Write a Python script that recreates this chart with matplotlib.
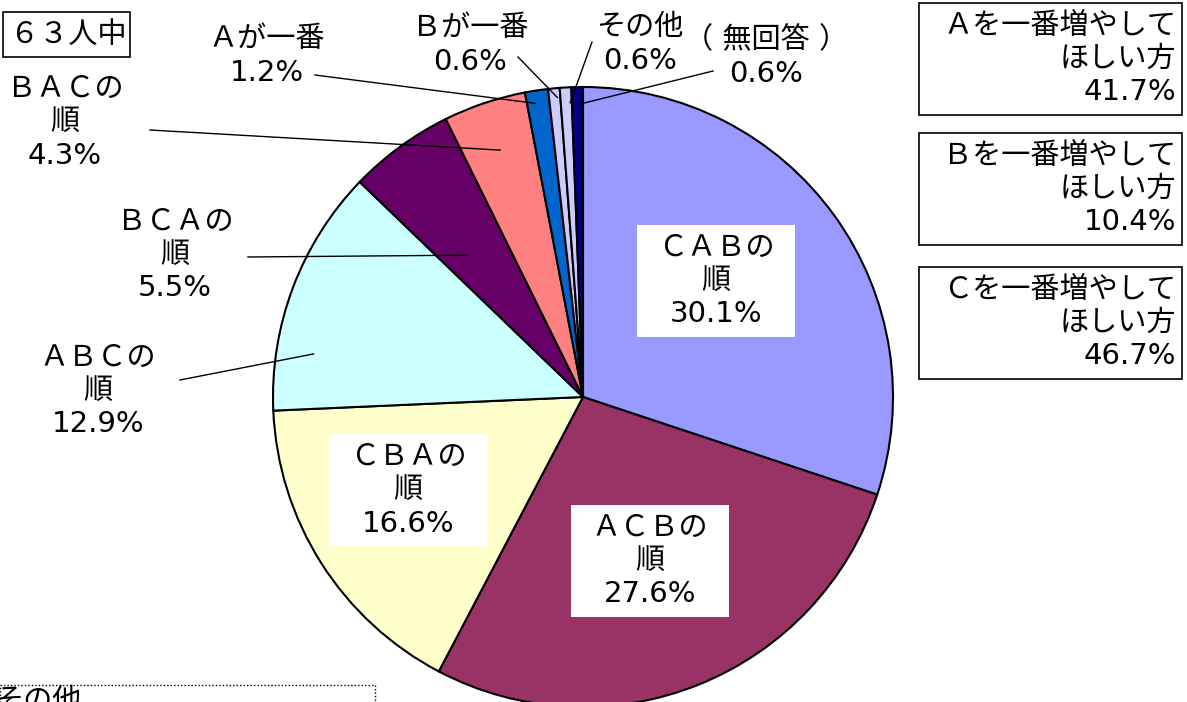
import matplotlib
matplotlib.use('Agg')
import matplotlib.pyplot as plt
from matplotlib.patches import Rectangle
import numpy as np

plt.rcParams['font.family'] = ['DejaVu Sans', 'Noto Sans CJK JP']

# データ (時計回り, 上から)
names = ['ＣＡＢの\n順', 'ＡＣＢの\n順', 'ＣＢＡの\n順', 'ＡＢＣの\n順', 'ＢＣＡの\n順',
         'ＢＡＣの\n順', 'Ａが一番', 'Ｂが一番', 'その他', '（ 無回答 ）']
values = [30.1, 27.6, 16.6, 12.9, 5.5, 4.3, 1.2, 0.6, 0.6, 0.6]
colors = ['#9999FF', '#993366', '#FFFFCC', '#CCFFFF', '#660066',
          '#FF8080', '#0066CC', '#CCCCFF', '#CCCCFF', '#000080']

total_label = '６３人中'
side_names = ['Ａを一番増やして\nほしい方', 'Ｂを一番増やして\nほしい方', 'Ｃを一番増やして\nほしい方']
side_values = [41.7, 10.4, 46.7]

W, H = 1187, 702
CX, CY, R = 583, 397, 310
FS = 21
LS = 1.25

fig = plt.figure(figsize=(W / 100, H / 100), dpi=100)
ax = fig.add_axes([0, 0, 1, 1])
ax.axis('off')

wedges, _ = ax.pie(values, colors=colors, startangle=-90, counterclock=True,
                   center=(CX, CY), radius=R,
                   wedgeprops=dict(edgecolor='black', linewidth=1.5))
ax.set_xlim(0, W)
ax.set_ylim(H, 0)
ax.set_aspect('equal')


def pct(v):
    return f'{v:.1f}%'


def txt(x, y, s, ha='center', **kw):
    ax.text(x, y, s, ha=ha, va='center', fontsize=FS, linespacing=LS, **kw)


# 内側ラベル (白い箱)
inner = {0: (716, 281), 1: (650, 561), 2: (408, 490)}
for i, (x, y) in inner.items():
    ax.add_patch(Rectangle((x - 79, y - 56), 158, 112, facecolor='white',
                           edgecolor='none', zorder=3))
    txt(x, y, names[i] + '\n' + pct(values[i]), zorder=4)

# 外側ラベルと引き出し線: (テキスト位置, 線の始点, 角度割合, 半径割合)
outer = {
    3: ((98, 391), (180, 380), 0.25, 0.88),
    4: ((175, 255), (248, 257), 0.35, 0.59),
    5: ((65, 122), (150, 130), 0.5, 0.84),
    6: ((267, 56), (315, 75), 0.35, 0.96),
    7: ((470, 45), (518, 57), 0.73, 0.97),
    8: ((640, 44), (592, 42), 0.84, 0.95),
    9: ((766, 57), (713, 71), 0.72, 0.945),
}
for i, ((tx, ty), (sx, sy), f, rf) in outer.items():
    txt(tx, ty, names[i] + '\n' + pct(values[i]))
    w = wedges[i]
    a = np.deg2rad(w.theta1 + f * (w.theta2 - w.theta1))
    ex, ey = CX + rf * R * np.cos(a), CY + rf * R * np.sin(a)
    ax.plot([sx, ex], [sy, ey], color='black', lw=1.0, zorder=5)

# 人数の箱
ax.add_patch(Rectangle((3, 12), 127, 45, facecolor='white', edgecolor='black', lw=1.2))
txt(68, 35, total_label)

# 右側の箱
box_tops = [3, 133, 267]
for top, n, v in zip(box_tops, side_names, side_values):
    ax.add_patch(Rectangle((919, top), 263, 112, facecolor='white',
                           edgecolor='black', lw=1.2))
    txt(1176, top + 56, n + '\n' + pct(v), ha='right')

# 下の凡例の切れ端
ax.add_patch(Rectangle((0, 685), 375, 40, facecolor='white', edgecolor='black',
                       lw=1.0, linestyle=(0, (1, 1.5)), clip_on=False))
ax.text(-6, 687, 'その他', ha='left', va='top', fontsize=FS)

fig.savefig('out.png', dpi=100)
